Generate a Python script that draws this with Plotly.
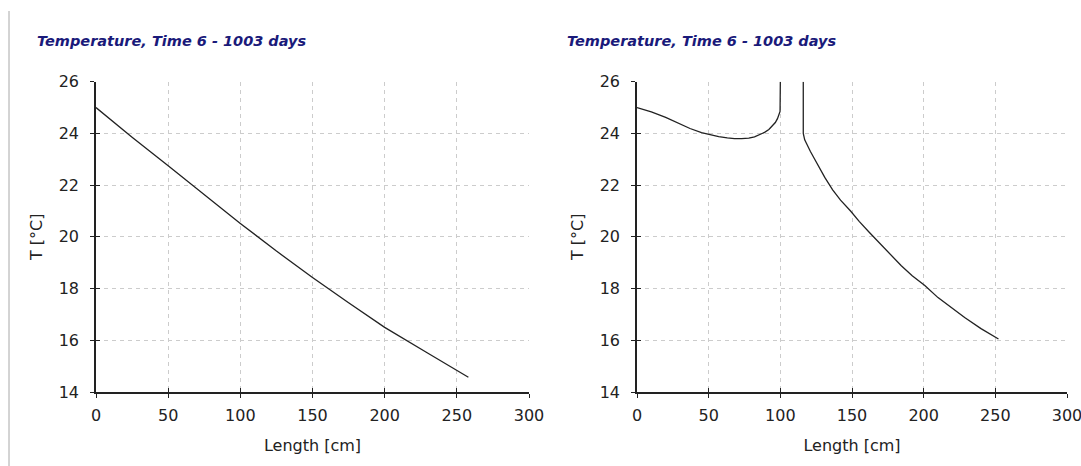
import plotly.graph_objects as go

# Left panel: temperature profile
left_len = [0, 25, 50, 75, 100, 125, 150, 175, 200, 230, 258]
left_temp = [25.0, 23.85, 22.75, 21.62, 20.52, 19.45, 18.43, 17.45, 16.5, 15.5, 14.57]

# Right panel: temperature profile with discontinuity
right_len = [0, 10, 20, 30, 37, 45, 50, 57, 63, 68, 73, 78, 82, 86, 89, 92, 94.5, 96.5, 98, 99.3, 99.8, 100, None,
             116, 116, 117, 119, 121, 123.5, 127, 131, 136.5, 142, 149, 155, 162, 172.5, 184.4, 192, 200.8,
             210, 220, 228.6, 240, 252.2]
right_temp = [25.0, 24.83, 24.62, 24.38, 24.19, 24.03, 23.96, 23.88, 23.83, 23.8, 23.8, 23.82, 23.87, 23.95, 24.04,
              24.15, 24.28, 24.42, 24.57, 24.75, 24.85, 26.0, None,
              26.0, 24.0, 23.75, 23.5, 23.3, 23.05, 22.7, 22.3, 21.82, 21.42, 21.0, 20.6, 20.18, 19.57, 18.88,
              18.5, 18.12, 17.65, 17.22, 16.88, 16.45, 16.05]

title_text = "Temperature, Time 6 - 1003 days"
x_title = "Length [cm]"
y_title = "T [°C]"
x_ticks = [0, 50, 100, 150, 200, 250, 300]
y_ticks = [14, 16, 18, 20, 22, 24, 26]

W, H = 1081, 466
ydom = [(466 - 392) / H, (466 - 81.7) / H]
xdom_l = [96 / W, 529 / W]
xdom_r = [637 / W, 1067 / W]

fig = go.Figure()
line_style = dict(color="#222222", width=1.3)
fig.add_trace(go.Scatter(x=left_len, y=left_temp, mode="lines", line=line_style,
                         xaxis="x", yaxis="y", showlegend=False, hoverinfo="skip"))
fig.add_trace(go.Scatter(x=right_len, y=right_temp, mode="lines", line=line_style,
                         xaxis="x2", yaxis="y2", showlegend=False, hoverinfo="skip",
                         connectgaps=False))
# empty traces for overlay tick axes
fig.add_trace(go.Scatter(x=[], y=[], xaxis="x3", yaxis="y3", showlegend=False))
fig.add_trace(go.Scatter(x=[], y=[], xaxis="x4", yaxis="y4", showlegend=False))

tickfont = dict(family="DejaVu Sans", size=16, color="#222222")
grid = dict(showgrid=True, gridcolor="#cccccc", griddash="4px,4px", gridwidth=1)

def xax(dom, anchor):
    return dict(domain=dom, anchor=anchor, range=[0, 300], tickvals=x_ticks,
                showline=True, linecolor="#222222", linewidth=1.5, automargin=False,
                ticklabeloverflow="allow", ticklabelstandoff=4,
                ticks="outside", ticklen=4, tickcolor="#222222", tickwidth=1.3,
                tickfont=tickfont, zeroline=False, fixedrange=True,
                title=dict(text=x_title, font=tickfont, standoff=16), **grid)

def yax(anchor):
    return dict(domain=ydom, anchor=anchor, range=[14, 26], tickvals=y_ticks,
                showline=True, linecolor="#222222", linewidth=1.5, automargin=False,
                ticklabeloverflow="allow", ticklabelstandoff=8,
                ticks="outside", ticklen=4, tickcolor="#222222", tickwidth=1.3,
                tickfont=tickfont, zeroline=False, fixedrange=True,
                title=dict(text=y_title, font=tickfont, standoff=12), **grid)

def ovx(dom, anchor, over):
    return dict(domain=dom, anchor=anchor, overlaying=over, range=[0, 300], tickvals=x_ticks,
                showticklabels=False, showgrid=False, zeroline=False, showline=False, automargin=False,
                ticks="inside", ticklen=4, tickcolor="#222222", tickwidth=1.3, fixedrange=True)

def ovy(anchor, over):
    return dict(domain=ydom, anchor=anchor, overlaying=over, range=[14, 26], tickvals=y_ticks,
                showticklabels=False, showgrid=False, zeroline=False, showline=False, automargin=False,
                ticks="inside", ticklen=4, tickcolor="#222222", tickwidth=1.3, fixedrange=True)

fig.update_layout(
    width=W, height=H, margin=dict(l=0, r=0, t=0, b=0, autoexpand=False),
    paper_bgcolor="white", plot_bgcolor="white",
    xaxis=xax(xdom_l, "y"), yaxis=yax("x"),
    xaxis2=xax(xdom_r, "y2"), yaxis2=yax("x2"),
    xaxis3=ovx(xdom_l, "y3", "x"), yaxis3=ovy("x3", "y"),
    xaxis4=ovx(xdom_r, "y4", "x2"), yaxis4=ovy("x4", "y2"),
)

title_font = dict(family="DejaVu Sans", size=14.5, color="#1a1a7a", weight="bold", style="italic")
for xpx in (35, 565):
    fig.add_annotation(text=title_text, x=xpx / W, y=(466 - 41) / H, xref="paper", yref="paper",
                       xanchor="left", yanchor="middle", showarrow=False, font=title_font)

fig.add_shape(type="line", xref="paper", yref="paper", x0=9 / W, x1=9 / W,
              y0=0, y1=(466 - 11) / H, line=dict(color="#a8a8a8", width=1))

fig.write_html("out.html")
